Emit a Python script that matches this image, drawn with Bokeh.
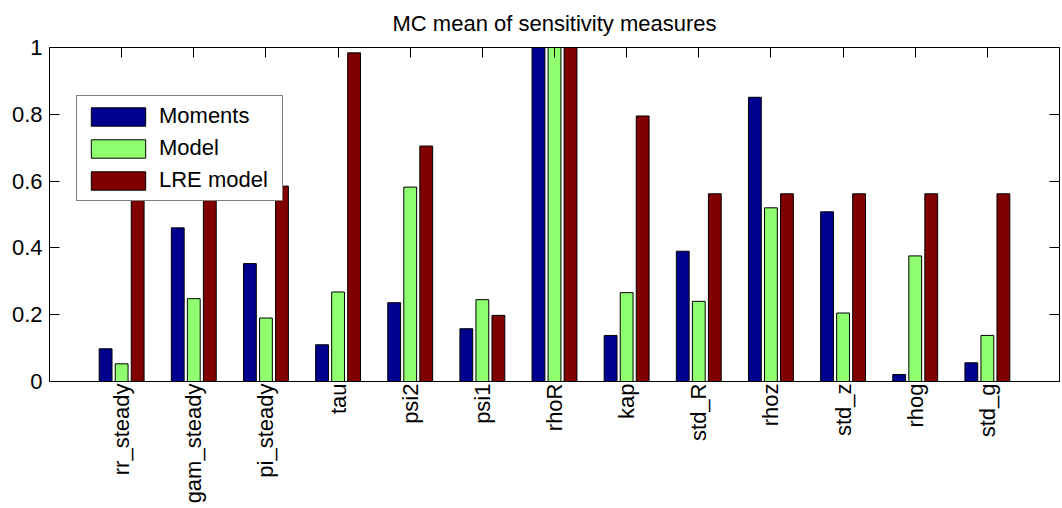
import math
from bokeh.plotting import figure
from bokeh.models import (ColumnDataSource, FixedTicker, LinearAxis, Range1d,
                          Legend, LegendItem)
from bokeh.transform import dodge
from bokeh.embed import file_html
from bokeh.resources import INLINE

# Parameters and the MC mean of each sensitivity measure
params = ["rr_steady", "gam_steady", "pi_steady", "tau", "psi2", "psi1", "rhoR",
          "kap", "std_R", "rhoz", "std_z", "rhog", "std_g"]
moments = [0.098, 0.460, 0.353, 0.110, 0.236, 0.158, 1.0, 0.138, 0.390, 0.851, 0.508, 0.021, 0.056]
model = [0.053, 0.248, 0.190, 0.268, 0.582, 0.245, 1.0, 0.266, 0.240, 0.520, 0.205, 0.376, 0.138]
lre_model = [0.56, 0.56, 0.585, 0.984, 0.705, 0.198, 1.0, 0.795, 0.562, 0.562, 0.562, 0.562, 0.562]

series = ["Moments", "Model", "LRE model"]
colors = ["#00008F", "#8FFF70", "#800000"]
y_ticks = [0, 0.2, 0.4, 0.6, 0.8, 1]
y_tick_labels = ["0", "0.2", "0.4", "0.6", "0.8", "1"]

FONT = "Liberation Sans"
FS = "22px"

pos = list(range(1, len(params) + 1))
src = ColumnDataSource(dict(x=pos, moments=moments, model=model, lre=lre_model))

p = figure(width=1062, height=508, x_range=Range1d(0, len(params) + 1),
           y_range=Range1d(0, 1), output_backend="svg", toolbar_location=None,
           min_border_left=49, min_border_right=3, min_border_top=47,
           min_border_bottom=127, background_fill_color="white",
           border_fill_color="white")

p.title.text = "MC mean of sensitivity measures"
p.title.align = "center"
p.title.vertical_align = "top"
p.title.text_font = FONT
p.title.text_font_size = FS
p.title.text_font_style = "normal"
p.title.text_color = "black"
p.title.standoff = 20

p.xgrid.visible = False
p.ygrid.visible = False
p.outline_line_color = "black"
p.outline_line_width = 1

# grouped bars
group_w = 2 / 3
slot = group_w / 3
bar_w = slot * 0.8
renderers = []
for i, (field, color) in enumerate(zip(["moments", "model", "lre"], colors)):
    r = p.vbar(x=dodge("x", (i - 1) * slot), top=field, width=bar_w, bottom=0,
               source=src, fill_color=color, line_color="black", line_width=1)
    renderers.append(r)

# bottom axis: category names, vertical
xa = p.xaxis[0]
xa.ticker = FixedTicker(ticks=pos)
xa.major_label_overrides = {k: name for k, name in zip(pos, params)}
xa.major_label_orientation = math.pi / 2
xa.major_label_text_font = FONT
xa.major_label_text_font_size = FS
xa.major_label_text_color = "black"
xa.major_label_standoff = 2
xa.major_tick_in = 0
xa.major_tick_out = 0
xa.minor_tick_line_color = None
xa.axis_line_color = "black"

# left axis
ya = p.yaxis[0]
ya.ticker = FixedTicker(ticks=y_ticks)
ya.major_label_overrides = {k: lab for k, lab in zip(y_ticks, y_tick_labels)}
ya.major_label_text_font = FONT
ya.major_label_text_font_size = FS
ya.major_label_text_color = "black"
ya.major_label_standoff = 7
ya.major_tick_in = 10
ya.major_tick_out = 0
ya.minor_tick_line_color = None
ya.axis_line_color = "black"
ya.major_tick_line_color = "black"

# top and right axes carry ticks only
top = LinearAxis(ticker=FixedTicker(ticks=pos), major_label_text_font_size="0px",
                 major_label_text_color=None, major_label_standoff=0,
                 major_tick_in=10, major_tick_out=0,
                 minor_tick_line_color=None, axis_line_color="black")
p.add_layout(top, "above")
right = LinearAxis(ticker=FixedTicker(ticks=y_ticks), major_label_text_font_size="0px",
                   major_label_text_color=None, major_label_standoff=0,
                   major_tick_in=10, major_tick_out=0,
                   minor_tick_line_color=None, axis_line_color="black")
p.add_layout(right, "right")

legend = Legend(items=[LegendItem(label=s, renderers=[r]) for s, r in zip(series, renderers)],
                location=(27, 180), orientation="vertical",
                label_text_font=FONT, label_text_font_size=FS, label_text_color="black",
                glyph_width=68, glyph_height=23, label_height=23, label_width=116,
                label_standoff=7, spacing=6, padding=7, margin=0,
                border_line_color="black", border_line_width=1,
                background_fill_color="white", background_fill_alpha=1.0)
p.add_layout(legend, "center")

open("out.html", "w").write(file_html(p, INLINE))
